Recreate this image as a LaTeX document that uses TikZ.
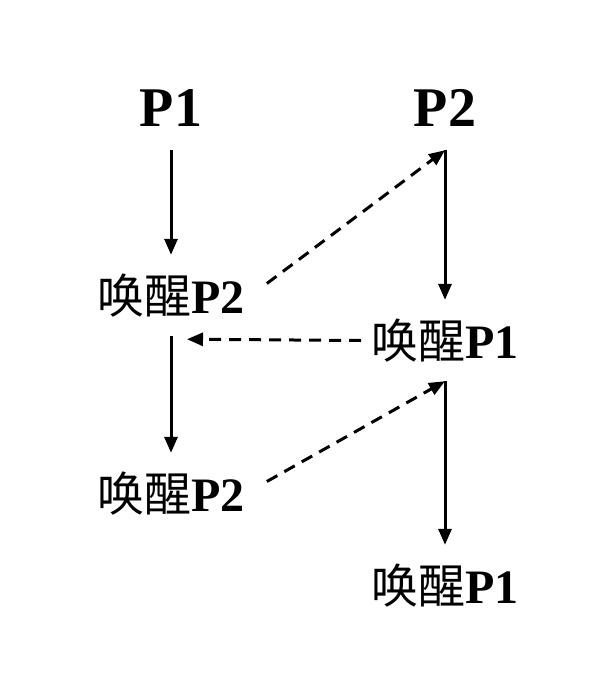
\documentclass[tikz,border=0pt]{standalone}
\usepackage{fontspec}
\setmainfont{Liberation Serif}
\newfontfamily\cjk{Noto Sans CJK SC}
\usetikzlibrary{arrows.meta, positioning}

\begin{document}
\begin{tikzpicture}[
x=1pt, y=-1pt,
head/.style={inner xsep=0pt, inner ysep=23pt, text height=37pt, text depth=0pt, anchor=base, font=\fontsize{56}{60}\selectfont\bfseries},
wake/.style={inner xsep=0pt, inner ysep=23pt, text height=35pt, text depth=0pt, anchor=base, font=\fontsize{48}{50}\selectfont\bfseries},
arrow/.style={-{Triangle[length=16pt, width=13pt]}, line width=3pt},
dasharrow/.style={arrow, dash pattern=on 12pt off 8pt}
]
\useasboundingbox (0,0) rectangle (596,698);
\newcommand\hx[1]{{\cjk\mdseries\fontsize{47}{50}\selectfont #1}}
\node[head] (p1) at (171,127) {P1};
\node[head] (p2) at (445,127) {P2};
\node[wake] (w2a) at (171,313) {\hx{唤醒}P2};
\node[wake] (w1a) at (445,358) {\hx{唤醒}P1};
\node[wake] (w2b) at (171,511) {\hx{唤醒}P2};
\node[wake] (w1b) at (445,603) {\hx{唤醒}P1};

\draw[arrow] (p1.south) -- (w2a.north);
\draw[arrow] (p2.south) -- (w1a.north);
\draw[arrow] (w2a.south) -- (w2b.north);
\draw[arrow] (w1a.south) -- (w1b.north);
\draw[dasharrow] ([shift={(22pt,12pt)}]w2a.east) -- (p2.south);
\draw[dasharrow] ([xshift=-10pt]w1a.west) -- ([shift={(16pt,-3pt)}]w2a.south);
\draw[dasharrow] ([shift={(22pt,12pt)}]w2b.east) -- (w1a.south);
\end{tikzpicture}
\end{document}
